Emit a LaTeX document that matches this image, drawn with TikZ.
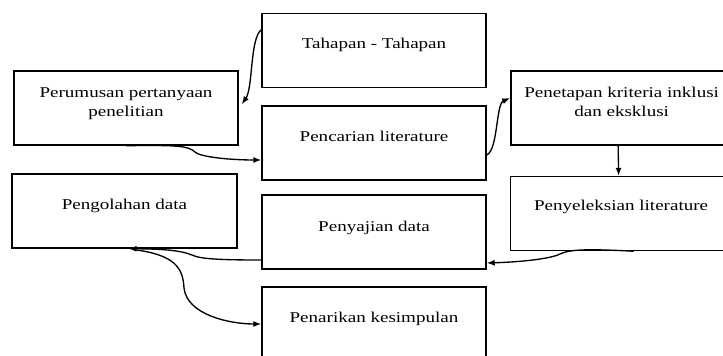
\documentclass[tikz,border=0pt]{standalone}
\usepackage{fontspec}
\setmainfont{Liberation Serif}[FakeStretch=1.27]
\usetikzlibrary{arrows.meta,calc}
\tikzset{
  box/.style={draw, line width=1.05pt, inner sep=0pt, minimum width=168pt, minimum height=55.5pt},
  widebox/.style={box, minimum width=172pt},
  txt/.style={inner sep=0pt, align=center, font=\fontsize{11.25pt}{14.25pt}\selectfont, anchor=base},
  conn/.style={line width=1pt, -{Latex[length=6pt,width=4.5pt]}}
}
\begin{document}
\begin{tikzpicture}[x=0.75pt,y=-0.75pt]
\useasboundingbox (0,0) rectangle (723,356);
% boxes
\node[box] (A) at (374,50.5) {};
\node[box] (B) at (126,108) {};
\node[box] (C) at (374,143) {};
\node[widebox] (D) at (625.5,108) {};
\node[widebox] (E) at (625,213.5) {};
\node[box, minimum width=168.75pt] (F) at (124.5,211) {};
\node[box] (G) at (374,232) {};
\node[box] (H) at (374,324) {};
% texts
\node[txt] (tA) at ($(A.north)+(0,36)$) {Tahapan - Tahapan};
\node[txt] (tB) at ($(B.north)+(0,46)$) {Perumusan pertanyaan\\penelitian};
\node[txt] (tC) at ($(C.north)+(0,36)$) {Pencarian literature};
\node[txt] (tD) at ($(D.north west)+(111.5,46)$) {Penetapan kriteria inklusi\\dan eksklusi};
\node[txt] (tE) at ($(E.north west)+(111.5,35)$) {Penyeleksian literature};
\node[txt] (tF) at ($(F.north)+(0,36)$) {Pengolahan data};
\node[txt] (tG) at ($(G.north)+(0,37)$) {Penyajian data};
\node[txt] (tH) at ($(H.north)+(0,36)$) {Penarikan kesimpulan};
% connectors
\draw[conn] ($(A.north west)+(0,17)$) .. controls (250,38) and (253,88) .. ($(B.north east)+(3,34)$);
\draw[conn] (B.south) .. controls (180,145) and (188,146) .. (195,152) .. controls (200,157) and (230,160) .. ($(C.west)+(0,17)$);
\draw[conn] ($(C.east)+(0,12)$) .. controls (498,150) and (496,104) .. ($(D.west)+(0,-10)$);
\draw[conn] ($(D.south west)+(108,0)$) -- ($(E.north west)+(109,0)$);
\draw[conn] ($(E.south west)+(124,0)$) .. controls (590,249) and (570,249) .. (560,254) .. controls (550,259) and (520,262) .. ($(G.east)+(0,31)$);
\draw[conn] ($(G.west)+(0,28)$) .. controls (220,260) and (200,259) .. (192,255) .. controls (180,250) and (160,249) .. ($(F.south)+(4,0)$);
\draw[conn] ($(F.south)+(10,1)$) .. controls (175,255) and (183,268) .. (184,288) .. controls (187,315) and (230,324) .. (H.west);
\end{tikzpicture}
\end{document}
